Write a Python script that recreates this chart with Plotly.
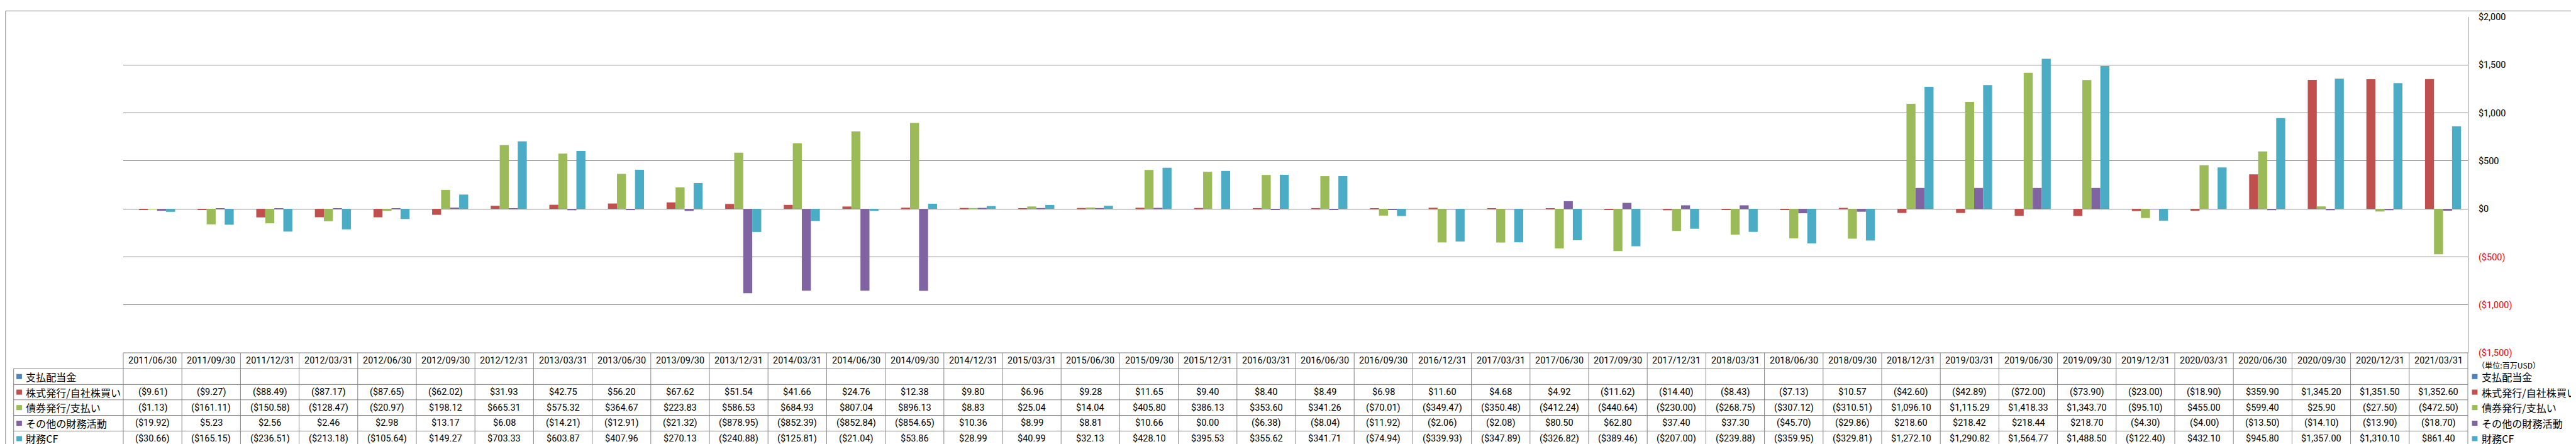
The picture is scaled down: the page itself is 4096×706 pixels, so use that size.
import plotly.graph_objects as go

# ---------------- data ----------------
dates = [
    "2011/06/30", "2011/09/30", "2011/12/31",
    "2012/03/31", "2012/06/30", "2012/09/30", "2012/12/31",
    "2013/03/31", "2013/06/30", "2013/09/30", "2013/12/31",
    "2014/03/31", "2014/06/30", "2014/09/30", "2014/12/31",
    "2015/03/31", "2015/06/30", "2015/09/30", "2015/12/31",
    "2016/03/31", "2016/06/30", "2016/09/30", "2016/12/31",
    "2017/03/31", "2017/06/30", "2017/09/30", "2017/12/31",
    "2018/03/31", "2018/06/30", "2018/09/30", "2018/12/31",
    "2019/03/31", "2019/06/30", "2019/09/30", "2019/12/31",
    "2020/03/31", "2020/06/30", "2020/09/30", "2020/12/31",
    "2021/03/31",
]

dividends = [None] * 40  # 支払配当金 (no data)

stock = [
    -9.61, -9.27, -88.49,
    -87.17, -87.65, -62.02, 31.93,
    42.75, 56.20, 67.62, 51.54,
    41.66, 24.76, 12.38, 9.80,
    6.96, 9.28, 11.65, 9.40,
    8.40, 8.49, 6.98, 11.60,
    4.68, 4.92, -11.62, -14.40,
    -8.43, -7.13, 10.57, -42.60,
    -42.89, -72.00, -73.90, -23.00,
    -18.90, 359.90, 1345.20, 1351.50,
    1352.60,
]

bonds = [
    -1.13, -161.11, -150.58,
    -128.47, -20.97, 198.12, 665.31,
    575.32, 364.67, 223.83, 586.53,
    684.93, 807.04, 896.13, 8.83,
    25.04, 14.04, 405.80, 386.13,
    353.60, 341.26, -70.01, -349.47,
    -350.48, -412.24, -440.64, -230.00,
    -268.75, -307.12, -310.51, 1096.10,
    1115.29, 1418.33, 1343.70, -95.10,
    455.00, 599.40, 25.90, -27.50,
    -472.50,
]

other = [
    -19.92, 5.23, 2.56,
    2.46, 2.98, 13.17, 6.08,
    -14.21, -12.91, -21.32, -878.95,
    -852.39, -852.84, -854.65, 10.36,
    8.99, 8.81, 10.66, 0.00,
    -6.38, -8.04, -11.92, -2.06,
    -2.08, 80.50, 62.80, 37.40,
    37.30, -45.70, -29.86, 218.60,
    218.42, 218.44, 218.70, -4.30,
    -4.00, -13.50, -14.10, -13.90,
    -18.70,
]

fin_cf = [
    -30.66, -165.15, -236.51,
    -213.18, -105.64, 149.27, 703.33,
    603.87, 407.96, 270.13, -240.88,
    -125.81, -21.04, 53.86, 28.99,
    40.99, 32.13, 428.10, 395.53,
    355.62, 341.71, -74.94, -339.93,
    -347.89, -326.82, -389.46, -207.00,
    -239.88, -359.95, -329.81, 1272.10,
    1290.82, 1564.77, 1488.50, -122.40,
    432.10, 945.80, 1357.00, 1310.10,
    861.40,
]

series_names = ["支払配当金", "株式発行/自社株買い", "債券発行/支払い", "その他の財務活動", "財務CF"]
series_values = [dividends, stock, bonds, other, fin_cf]
series_colors = ["#4F81BD", "#C0504D", "#9BBB59", "#8064A2", "#4BACC6"]

y_ticks = [2000, 1500, 1000, 500, 0, -500, -1000, -1500]
unit_label = "（単位:百万USD）"

# ---------------- layout geometry (pixels in 4096x706 window) ----------------
W, H = 4096, 706
L, R, T, B = 188.0, 3916.0, 10.9, 553.2
PW, PH = R - L, B - T

row_edges = [553.2, 578.7, 604.4, 629.1, 654.3, 679.5, 704.0]
row_centers = [(row_edges[i] + row_edges[i + 1]) / 2 for i in range(6)]
label_left = 13.7
GRID = "#868686"
NUM_FONT = "Roboto, 'Liberation Sans', sans-serif"
JP_FONT = "'Noto Sans CJK JP', 'Noto Sans CJK SC', sans-serif"


def px(xp):
    return (xp - L) / PW


def py(yp):
    return (B - yp) / PH


def fmt_money(v, decimals=2):
    if v is None:
        return ""
    s = f"${abs(v):,.{decimals}f}"
    return f"({s})" if v < 0 else s


fig = go.Figure()
for name, vals, col in zip(series_names, series_values, series_colors):
    fig.add_trace(go.Bar(x=dates, y=vals, name=name, marker=dict(color=col, line=dict(width=0)),
                         showlegend=False))

shapes = []
annotations = []

# outer border
shapes.append(dict(type="rect", xref="paper", yref="paper",
                   x0=px(0.8), x1=px(4093.0), y0=py(1.1), y1=py(704.2),
                   line=dict(color=GRID, width=1), fillcolor="rgba(0,0,0,0)"))

# table horizontal lines
shapes.append(dict(type="line", xref="paper", yref="paper", x0=0, x1=1,
                   y0=py(row_edges[0]), y1=py(row_edges[0]), line=dict(color=GRID, width=1)))
for ye in row_edges[1:]:
    shapes.append(dict(type="line", xref="paper", yref="paper", x0=px(label_left), x1=1,
                       y0=py(ye), y1=py(ye), line=dict(color=GRID, width=1)))
# table vertical lines at category boundaries
n = len(dates)
for i in range(n + 1):
    shapes.append(dict(type="line", xref="paper", yref="paper", x0=i / n, x1=i / n,
                       y0=py(row_edges[0]), y1=py(row_edges[-1]), line=dict(color=GRID, width=1)))
shapes.append(dict(type="line", xref="paper", yref="paper", x0=px(label_left), x1=px(label_left),
                   y0=py(row_edges[1]), y1=py(row_edges[-1]), line=dict(color=GRID, width=1)))

# header dates
for d in dates:
    annotations.append(dict(x=d, xref="x", y=py(row_centers[0]), yref="paper", text=d,
                            showarrow=False, xanchor="center", yanchor="middle",
                            font=dict(family=NUM_FONT, size=14.5, color="#000000")))

# rows: legend key + label + values
sq = 8.2
for r, (name, vals, col) in enumerate(zip(series_names, series_values, series_colors)):
    yc = row_centers[r + 1]
    shapes.append(dict(type="rect", xref="paper", yref="paper",
                       x0=px(18.1), x1=px(26.9), y0=py(yc - sq / 2), y1=py(yc + sq / 2),
                       line=dict(width=0), fillcolor=col))
    annotations.append(dict(x=px(31.0), xref="paper", y=py(yc), yref="paper", text=name,
                            showarrow=False, xanchor="left", yanchor="middle",
                            font=dict(family=JP_FONT, size=16.1, color="#000000")))
    for d, v in zip(dates, vals):
        if v is None:
            continue
        annotations.append(dict(x=d, xref="x", y=py(yc), yref="paper", text=fmt_money(v),
                                showarrow=False, xanchor="center", yanchor="middle",
                                font=dict(family=NUM_FONT, size=14.5, color="#000000")))
    # right legend
    shapes.append(dict(type="rect", xref="paper", yref="paper",
                       x0=px(3922.6), x1=px(3931.4), y0=py(yc - sq / 2), y1=py(yc + sq / 2),
                       line=dict(width=0), fillcolor=col))
    annotations.append(dict(x=px(3935.5), xref="paper", y=py(yc), yref="paper", text=name,
                            showarrow=False, xanchor="left", yanchor="middle",
                            font=dict(family=JP_FONT, size=16.1, color="#000000")))

annotations.append(dict(x=px(3928.5), xref="paper", y=py(572.7), yref="paper", text=unit_label,
                        showarrow=False, xanchor="left", yanchor="middle",
                        font=dict(family=JP_FONT, size=12.1, color="#000000")))

tick_text = []
for v in y_ticks:
    t = fmt_money(v, 0)
    tick_text.append(f'<span style="color:#FF0000">{t}</span>' if v < 0 else t)

fig.update_layout(
    width=W, height=H,
    margin=dict(l=L, r=W - R, t=T, b=H - B, pad=0),
    paper_bgcolor="white", plot_bgcolor="white",
    barmode="group", bargap=0.2308, bargroupgap=0,
    showlegend=False,
    shapes=shapes, annotations=annotations,
    xaxis=dict(type="category", range=[-0.5, n - 0.5], showticklabels=False,
               showgrid=False, showline=False, zeroline=False, ticks=""),
    yaxis=dict(side="right", range=[-1500, 2000], tickvals=y_ticks, ticktext=tick_text,
               showgrid=True, gridcolor=GRID, gridwidth=1,
               zeroline=True, zerolinecolor=GRID, zerolinewidth=1,
               showline=True, linecolor=GRID, linewidth=1, ticks="",
               ticklabelstandoff=13,
               tickfont=dict(family=NUM_FONT, size=14.5, color="#000000")),
)

fig.write_html("out.html")
